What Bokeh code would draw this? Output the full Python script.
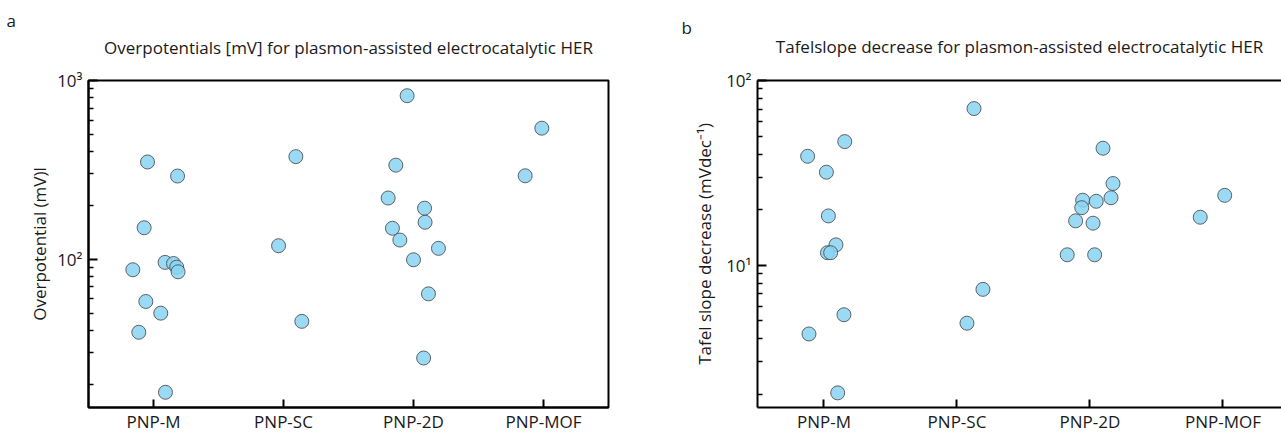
from bokeh.plotting import figure
from bokeh.layouts import row
from bokeh.models import FixedTicker, LinearAxis, Title, Range1d, ColumnDataSource
from bokeh.embed import file_html
from bokeh.resources import INLINE

categories = ["PNP-M", "PNP-SC", "PNP-2D", "PNP-MOF"]

# Panel a: overpotentials (mV)
a_group = ["PNP-M"] * 12 + ["PNP-SC"] * 3 + ["PNP-2D"] * 11 + ["PNP-MOF"] * 2
a_value = [350, 292, 150, 96, 94.6, 90.3, 85, 87.3, 58, 49.9, 39, 18,
           375, 119, 44.9,
           822, 336, 220, 193, 161, 149, 128, 115, 99.3, 64, 28,
           541, 293]
a_jitter = [-0.046, 0.185, -0.072, 0.089, 0.154, 0.179, 0.189, -0.159, -0.059, 0.056, -0.113, 0.092,
            0.095, -0.038, 0.141,
            -0.049, -0.136, -0.195, 0.085, 0.089, -0.162, -0.105, 0.192, 0.0, 0.115, 0.078,
            -0.013, -0.141]

# Panel b: Tafel slope decrease (mV dec-1)
b_group = ["PNP-M"] * 10 + ["PNP-SC"] * 3 + ["PNP-2D"] * 10 + ["PNP-MOF"] * 2
b_value = [38.9, 46.7, 31.9, 18.5, 12.9, 11.7, 11.7, 5.4, 4.25, 2.04,
           70.5, 7.41, 4.86,
           43, 27.7, 23.2, 22.5, 22.2, 20.5, 17.4, 16.9, 11.4, 11.4,
           23.9, 18.2]
b_jitter = [-0.123, 0.156, 0.018, 0.033, 0.09, 0.026, 0.05, 0.15, -0.113, 0.103,
            0.128, 0.195, 0.075,
            0.098, 0.173, 0.158, -0.055, 0.047, -0.062, -0.108, 0.023, -0.171, 0.035,
            0.013, -0.171]

a_major = [100, 1000]
a_minor = [20, 30, 40, 50, 60, 70, 80, 90, 200, 300, 400, 500, 600, 700, 800, 900]
a_labels = {100: "10²", 1000: "10³"}
b_major = [10, 100]
b_minor = [2, 3, 4, 5, 6, 7, 8, 9, 20, 30, 40, 50, 60, 70, 80, 90]
b_labels = {10: "10¹", 100: "10²"}

title_a = "Overpotentials [mV] for plasmon-assisted electrocatalytic HER"
title_b = "Tafelslope decrease for plasmon-assisted electrocatalytic HER"

FONT = "Open Sans"
FS = "17px"
TXT = "#1a1a1a"
FILL = "#89D3F3"
EDGE = "#4a4a4a"


def positions(groups, jitter):
    return [categories.index(g) + 1 + j for g, j in zip(groups, jitter)]


def style_axes(p, ylabel, lab_standoff, tick_standoff):
    p.xaxis.ticker = FixedTicker(ticks=[1, 2, 3, 4])
    p.xaxis.major_label_overrides = {i + 1: c for i, c in enumerate(categories)}
    for ax in (p.xaxis[0], p.yaxis[0]):
        ax.axis_line_width = 2
        ax.axis_line_color = "black"
        ax.major_tick_in = 9
        ax.major_tick_out = 0
        ax.major_tick_line_width = 2
        ax.major_tick_line_color = "black"
        ax.minor_tick_in = 5
        ax.minor_tick_out = 0
        ax.minor_tick_line_width = 1.5
        ax.minor_tick_line_color = "black"
        ax.major_label_text_font = FONT
        ax.major_label_text_font_size = FS
        ax.major_label_text_color = TXT
    p.xaxis.major_tick_in = 8
    p.xaxis.minor_tick_line_color = None
    p.xaxis.major_label_standoff = 2
    p.yaxis.major_label_standoff = tick_standoff
    p.yaxis.axis_label = ylabel
    p.yaxis.axis_label_text_font = FONT
    p.yaxis.axis_label_text_font_style = "normal"
    p.yaxis.axis_label_text_font_size = FS
    p.yaxis.axis_label_text_color = TXT
    p.yaxis.axis_label_standoff = lab_standoff
    p.xgrid.visible = False
    p.ygrid.visible = False


def add_titles(p, main, letter, letter_offset, main_standoff, letter_standoff):
    p.add_layout(Title(text=main, align="center", text_font=FONT, text_font_size=FS,
                       text_font_style="normal", text_color=TXT, standoff=main_standoff), "above")
    p.add_layout(Title(text=letter, align="left", offset=letter_offset, text_font=FONT,
                       text_font_size=FS, text_font_style="normal", text_color=TXT,
                       standoff=letter_standoff), "above")


# ---------- panel a ----------
pa = figure(width=640, height=435, y_axis_type="log", output_backend="svg",
            toolbar_location=None, title_location=None, x_range=Range1d(0.5, 4.5),
            y_range=Range1d(14.8, 1000),
            min_border_left=88, min_border_right=32, min_border_top=80, min_border_bottom=25)
pa.outline_line_color = "black"
pa.outline_line_width = 2
pa.outline_line_alpha = 1
pa.yaxis.ticker = FixedTicker(ticks=a_major, minor_ticks=a_minor)
pa.yaxis.major_label_overrides = a_labels
style_axes(pa, "Overpotential (mV)l", 3, 6)
src_a = ColumnDataSource(dict(x=positions(a_group, a_jitter), y=a_value))
pa.scatter("x", "y", source=src_a, size=14, fill_color=FILL, fill_alpha=0.85,
           line_color=EDGE, line_width=1, line_alpha=0.85)
add_titles(pa, title_a, "a", -82, 44, -40)

# ---------- panel b ----------
pb = figure(width=641, height=435, y_axis_type="log", output_backend="svg",
            toolbar_location=None, title_location=None, x_range=Range1d(0.5, 4.44),
            y_range=Range1d(1.70, 100),
            min_border_left=117, min_border_right=0, min_border_top=79, min_border_bottom=26)
pb.outline_line_color = None
pb.yaxis.ticker = FixedTicker(ticks=b_major, minor_ticks=b_minor)
pb.yaxis.major_label_overrides = b_labels
style_axes(pb, "Tafel slope decrease (mVdec⁻¹)", 7, 6)
top_axis = LinearAxis(ticker=FixedTicker(ticks=[]), axis_line_width=2, axis_line_color="black",
                      major_tick_line_color=None, minor_tick_line_color=None,
                      major_label_standoff=0, major_label_text_font_size="0px")
pb.add_layout(top_axis, "above")
src_b = ColumnDataSource(dict(x=positions(b_group, b_jitter), y=b_value))
pb.scatter("x", "y", source=src_b, size=14, fill_color=FILL, fill_alpha=0.85,
           line_color=EDGE, line_width=1, line_alpha=0.85)
add_titles(pb, title_b, "b", -76, 45, -56)

layout = row(pa, pb)
open("out.html", "w").write(file_html(layout, INLINE))
